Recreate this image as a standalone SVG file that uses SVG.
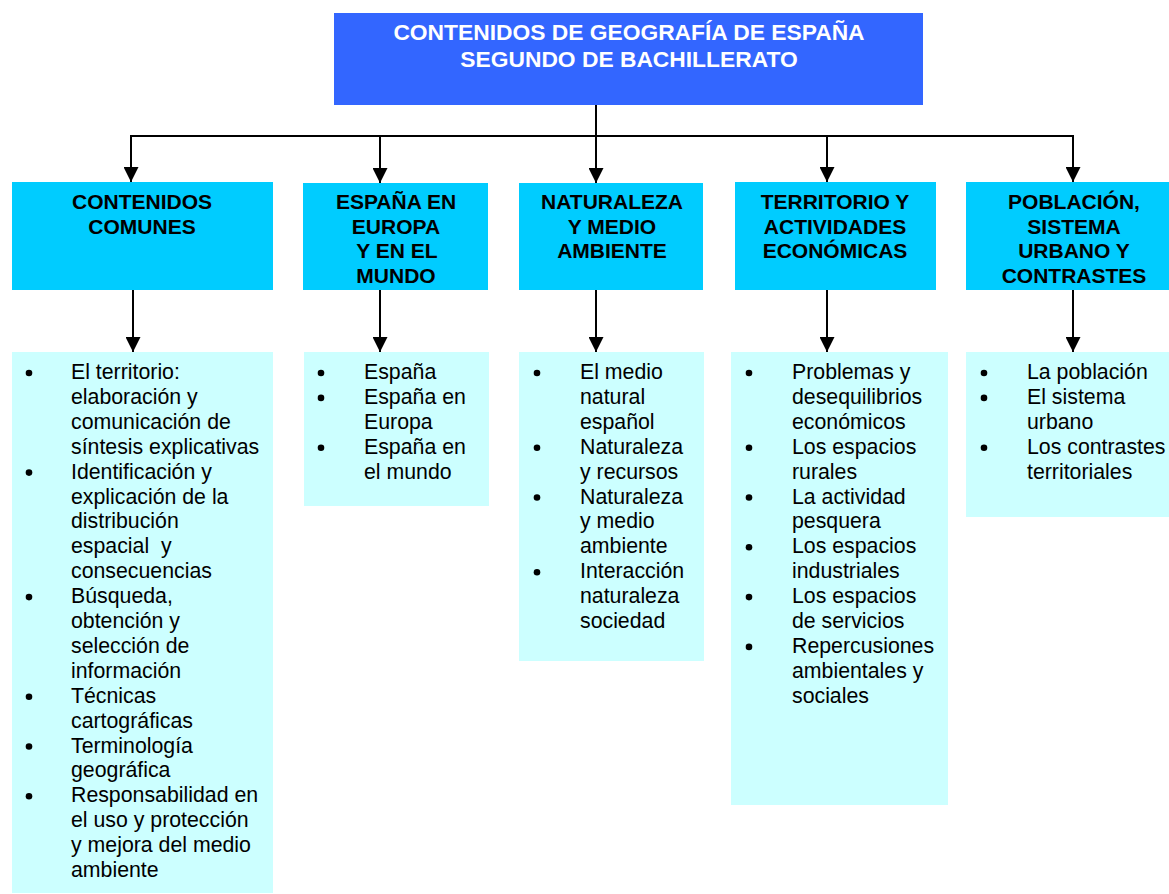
<svg xmlns="http://www.w3.org/2000/svg" width="1169" height="894" viewBox="0 0 1169 894">
<style>
.title{font-family:"Liberation Sans",Arial,sans-serif;font-weight:bold;font-size:22.8px;fill:#ffffff;text-anchor:middle}
.head{font-family:"Liberation Sans",Arial,sans-serif;font-weight:bold;font-size:21px;fill:#000000;text-anchor:middle}
.body{font-family:"Liberation Sans",Arial,sans-serif;font-size:21.3px;fill:#000000}
.top{fill:#3366FF}
.l1{fill:#00CCFF}
.l2{fill:#CCFFFF}
.con{stroke:#000;stroke-width:2;fill:none}
.arr{stroke:#000;stroke-width:2;fill:none;marker-end:url(#ah)}
.dot{fill:#000}
</style>
<defs>
<marker id="ah" markerUnits="userSpaceOnUse" markerWidth="15" markerHeight="15" refX="15" refY="7.5" orient="auto">
<path d="M0,0 L15,7.5 L0,15 z" fill="#000"/>
</marker>
</defs>
<rect width="1169" height="894" fill="#ffffff"/>

<g id="connectors">
<line class="con" x1="596" y1="105" x2="596" y2="136"/>
<line class="con" x1="130" y1="136" x2="1074" y2="136"/>
<line class="arr" x1="131" y1="136" x2="131" y2="182"/>
<line class="arr" x1="380" y1="136" x2="380" y2="183"/>
<line class="arr" x1="596" y1="136" x2="596" y2="183"/>
<line class="arr" x1="827" y1="136" x2="827" y2="182"/>
<line class="arr" x1="1073" y1="136" x2="1073" y2="182"/>
<line class="arr" x1="133" y1="290" x2="133" y2="352"/>
<line class="arr" x1="380" y1="290" x2="380" y2="352"/>
<line class="arr" x1="596" y1="290" x2="596" y2="352"/>
<line class="arr" x1="827" y1="290" x2="827" y2="352"/>
<line class="arr" x1="1073" y1="290" x2="1073" y2="352"/>
</g>

<g id="root">
<rect class="top" x="334" y="13" width="589" height="92"/>
<text class="title" x="629" y="39.5">CONTENIDOS DE GEOGRAFÍA DE ESPAÑA</text>
<text class="title" x="629" y="67">SEGUNDO DE BACHILLERATO</text>
</g>

<g id="h1">
<rect class="l1" x="12" y="182" width="261" height="108"/>
<text class="head" x="142" y="209">CONTENIDOS</text>
<text class="head" x="142" y="233.7">COMUNES</text>
</g>
<g id="h2">
<rect class="l1" x="303" y="183" width="185" height="107"/>
<text class="head" x="396" y="209">ESPAÑA EN</text>
<text class="head" x="396" y="233.7">EUROPA</text>
<text class="head" x="397" y="258.4">Y EN EL</text>
<text class="head" x="396" y="283.1">MUNDO</text>
</g>
<g id="h3">
<rect class="l1" x="519" y="183" width="184" height="107"/>
<text class="head" x="612" y="209">NATURALEZA</text>
<text class="head" x="612" y="233.7">Y MEDIO</text>
<text class="head" x="612" y="258.4">AMBIENTE</text>
</g>
<g id="h4">
<rect class="l1" x="735" y="182" width="201" height="108"/>
<text class="head" x="835" y="209">TERRITORIO Y</text>
<text class="head" x="835" y="233.7">ACTIVIDADES</text>
<text class="head" x="835" y="258.4">ECONÓMICAS</text>
</g>
<g id="h5">
<rect class="l1" x="966" y="182" width="203" height="108"/>
<text class="head" x="1074" y="209">POBLACIÓN,</text>
<text class="head" x="1074" y="233.7">SISTEMA</text>
<text class="head" x="1074" y="258.4">URBANO Y</text>
<text class="head" x="1074" y="283.1">CONTRASTES</text>
</g>

<g id="c1">
<rect class="l2" x="12" y="352" width="261" height="541"/>
<circle class="dot" cx="29" cy="373" r="3.3"/>
<circle class="dot" cx="29" cy="472.6" r="3.3"/>
<circle class="dot" cx="29" cy="597.1" r="3.3"/>
<circle class="dot" cx="29" cy="696.7" r="3.3"/>
<circle class="dot" cx="29" cy="746.5" r="3.3"/>
<circle class="dot" cx="29" cy="796.3" r="3.3"/>
<text class="body" x="71" y="379">El territorio:</text>
<text class="body" x="71" y="403.9">elaboración y</text>
<text class="body" x="71" y="428.8">comunicación de</text>
<text class="body" x="71" y="453.7">síntesis explicativas</text>
<text class="body" x="71" y="478.6">Identificación y</text>
<text class="body" x="71" y="503.5">explicación de la</text>
<text class="body" x="71" y="528.4">distribución</text>
<text class="body" x="71" y="553.3" xml:space="preserve">espacial  y</text>
<text class="body" x="71" y="578.2">consecuencias</text>
<text class="body" x="71" y="603.1">Búsqueda,</text>
<text class="body" x="71" y="628">obtención y</text>
<text class="body" x="71" y="652.9">selección de</text>
<text class="body" x="71" y="677.8">información</text>
<text class="body" x="71" y="702.7">Técnicas</text>
<text class="body" x="71" y="727.6">cartográficas</text>
<text class="body" x="71" y="752.5">Terminología</text>
<text class="body" x="71" y="777.4">geográfica</text>
<text class="body" x="71" y="802.3">Responsabilidad en</text>
<text class="body" x="71" y="827.2">el uso y protección</text>
<text class="body" x="71" y="852.1">y mejora del medio</text>
<text class="body" x="71" y="877">ambiente</text>
</g>

<g id="c2">
<rect class="l2" x="304" y="352" width="185" height="154"/>
<circle class="dot" cx="321" cy="373" r="3.3"/>
<circle class="dot" cx="321" cy="397.9" r="3.3"/>
<circle class="dot" cx="321" cy="447.7" r="3.3"/>
<text class="body" x="364" y="379">España</text>
<text class="body" x="364" y="403.9">España en</text>
<text class="body" x="364" y="428.8">Europa</text>
<text class="body" x="364" y="453.7">España en</text>
<text class="body" x="364" y="478.6">el mundo</text>
</g>

<g id="c3">
<rect class="l2" x="519" y="352" width="185" height="309"/>
<circle class="dot" cx="537" cy="373" r="3.3"/>
<circle class="dot" cx="537" cy="447.7" r="3.3"/>
<circle class="dot" cx="537" cy="497.5" r="3.3"/>
<circle class="dot" cx="537" cy="572.2" r="3.3"/>
<text class="body" x="580" y="379">El medio</text>
<text class="body" x="580" y="403.9">natural</text>
<text class="body" x="580" y="428.8">español</text>
<text class="body" x="580" y="453.7">Naturaleza</text>
<text class="body" x="580" y="478.6">y recursos</text>
<text class="body" x="580" y="503.5">Naturaleza</text>
<text class="body" x="580" y="528.4">y medio</text>
<text class="body" x="580" y="553.3">ambiente</text>
<text class="body" x="580" y="578.2">Interacción</text>
<text class="body" x="580" y="603.1">naturaleza</text>
<text class="body" x="580" y="628">sociedad</text>
</g>

<g id="c4">
<rect class="l2" x="731" y="352" width="217" height="453"/>
<circle class="dot" cx="749" cy="373" r="3.3"/>
<circle class="dot" cx="749" cy="447.7" r="3.3"/>
<circle class="dot" cx="749" cy="497.5" r="3.3"/>
<circle class="dot" cx="749" cy="547.3" r="3.3"/>
<circle class="dot" cx="749" cy="597.1" r="3.3"/>
<circle class="dot" cx="749" cy="646.9" r="3.3"/>
<text class="body" x="792" y="379">Problemas y</text>
<text class="body" x="792" y="403.9">desequilibrios</text>
<text class="body" x="792" y="428.8">económicos</text>
<text class="body" x="792" y="453.7">Los espacios</text>
<text class="body" x="792" y="478.6">rurales</text>
<text class="body" x="792" y="503.5">La actividad</text>
<text class="body" x="792" y="528.4">pesquera</text>
<text class="body" x="792" y="553.3">Los espacios</text>
<text class="body" x="792" y="578.2">industriales</text>
<text class="body" x="792" y="603.1">Los espacios</text>
<text class="body" x="792" y="628">de servicios</text>
<text class="body" x="792" y="652.9">Repercusiones</text>
<text class="body" x="792" y="677.8">ambientales y</text>
<text class="body" x="792" y="702.7">sociales</text>
</g>

<g id="c5">
<rect class="l2" x="966" y="352" width="203" height="165"/>
<circle class="dot" cx="984" cy="373" r="3.3"/>
<circle class="dot" cx="984" cy="397.9" r="3.3"/>
<circle class="dot" cx="984" cy="447.7" r="3.3"/>
<text class="body" x="1027" y="379">La población</text>
<text class="body" x="1027" y="403.9">El sistema</text>
<text class="body" x="1027" y="428.8">urbano</text>
<text class="body" x="1027" y="453.7">Los contrastes</text>
<text class="body" x="1027" y="478.6">territoriales</text>
</g>
</svg>
